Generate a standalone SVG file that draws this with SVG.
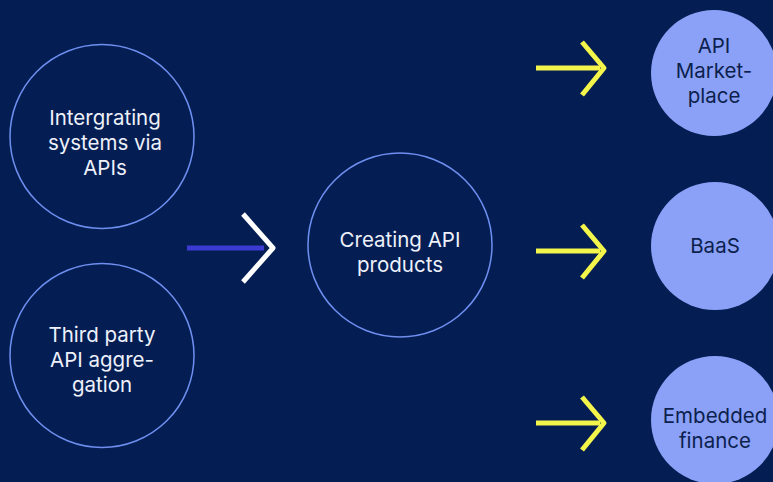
<svg xmlns="http://www.w3.org/2000/svg" width="773" height="482" viewBox="0 0 773 482">
  <style>
    .ring { fill: none; stroke: #6f8ff0; stroke-width: 1.5; }
    .solid { fill: #8aa1f7; stroke: none; }
    .lt { font-family: Inter, "Liberation Sans", sans-serif; font-size: 20.5px; fill: #eef1fa; text-anchor: middle; }
    .dk { font-family: Inter, "Liberation Sans", sans-serif; font-size: 20.5px; fill: #0c1f4d; text-anchor: middle; }
    .yl { stroke: #f3f54a; stroke-width: 5; fill: none; }
    .chev { stroke-linejoin: round; stroke-linecap: butt; }
  </style>
  <rect width="773" height="482" fill="#041e54"/>

  <g id="connectors">
    <line x1="187" y1="248" x2="264" y2="248" stroke="#3b3bd4" stroke-width="5"/>
    <polyline class="chev" points="243,214 273,248 243,282" stroke="#ffffff" stroke-width="5" fill="none"/>

    <line class="yl" x1="536" y1="68" x2="600" y2="68"/>
    <polyline class="yl chev" points="582,42 604,68 582,95"/>

    <line class="yl" x1="536" y1="251" x2="600" y2="251"/>
    <polyline class="yl chev" points="582,225 604,251 582,278"/>

    <line class="yl" x1="536" y1="423" x2="600" y2="423"/>
    <polyline class="yl chev" points="582,397 604,423 582,450"/>
  </g>

  <g id="node-integrating">
    <circle class="ring" cx="102" cy="136.5" r="92"/>
    <text class="lt" x="105" y="125">Intergrating</text>
    <text class="lt" x="105" y="150">systems via</text>
    <text class="lt" x="105" y="175">APIs</text>
  </g>

  <g id="node-thirdparty">
    <circle class="ring" cx="102" cy="355.5" r="92"/>
    <text class="lt" x="102" y="342">Third party</text>
    <text class="lt" x="102" y="367">API aggre-</text>
    <text class="lt" x="102" y="392">gation</text>
  </g>

  <g id="node-creating">
    <circle class="ring" cx="400" cy="245" r="92"/>
    <text class="lt" x="400" y="247">Creating API</text>
    <text class="lt" x="400" y="272">products</text>
  </g>

  <g id="node-marketplace">
    <circle class="solid" cx="714" cy="73" r="63"/>
    <text class="dk" x="714" y="53">API</text>
    <text class="dk" x="714" y="78">Market-</text>
    <text class="dk" x="714" y="103">place</text>
  </g>

  <g id="node-baas">
    <circle class="solid" cx="715" cy="246" r="64"/>
    <text class="dk" x="715" y="253">BaaS</text>
  </g>

  <g id="node-embedded">
    <circle class="solid" cx="715" cy="420" r="64"/>
    <text class="dk" x="715" y="423">Embedded</text>
    <text class="dk" x="715" y="448">finance</text>
  </g>
</svg>
